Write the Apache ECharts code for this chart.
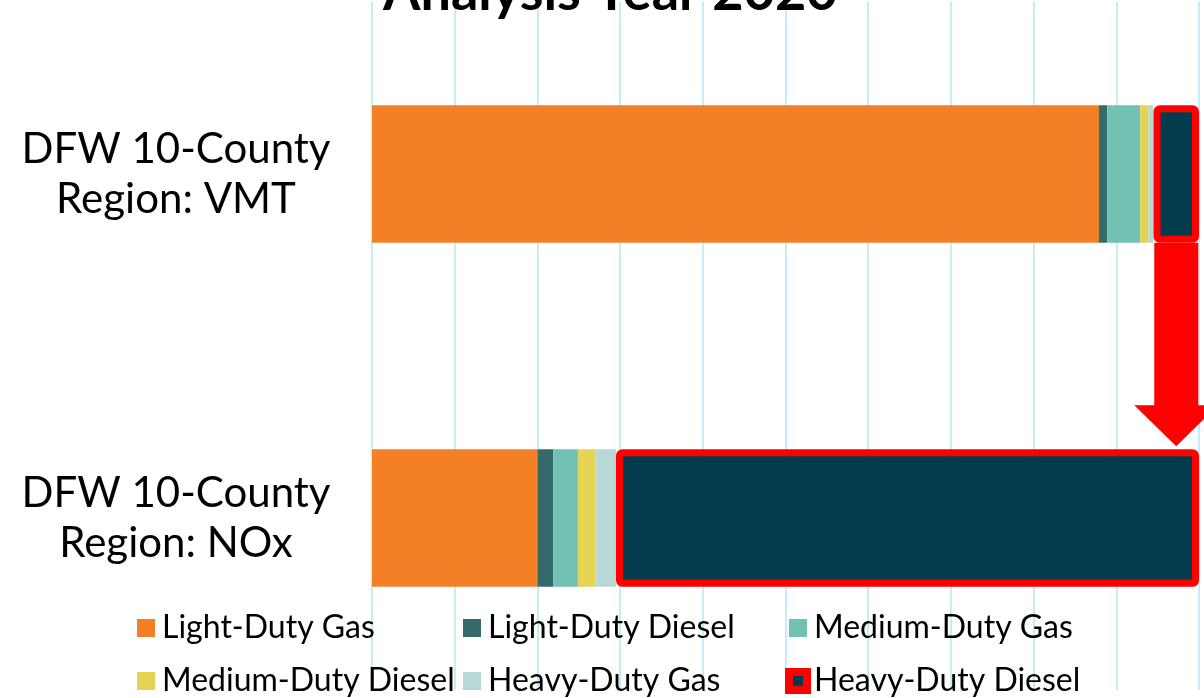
<!DOCTYPE html>
<html>
<head>
<meta charset="utf-8">
<script src="https://cdn.jsdelivr.net/npm/echarts@6/dist/echarts.min.js"></script>
<style>
  html, body { margin: 0; padding: 0; background: #fff; }
  #chart { width: 1204px; height: 698px; }
</style>
</head>
<body>
<div id="chart"></div>
<script>
// share of each vehicle class, percent
const categories = ['DFW 10-County\nRegion: VMT', 'DFW 10-County\nRegion: NOx']
const seriesNames = ['Light-Duty Gas', 'Light-Duty Diesel', 'Medium-Duty Gas',
  'Medium-Duty Diesel', 'Heavy-Duty Gas', 'Heavy-Duty Diesel']
const ldGas = [87.9, 20.0]
const ldDiesel = [1.0, 1.9]
const mdGas = [4.0, 3.0]
const mdDiesel = [1.0, 2.1]
const hdGas = [0.6, 2.5]
const hdDiesel = [5.5, 70.5]
const xTicks = [0, 10, 20, 30, 40, 50, 60, 70, 80, 90, 100]

const values = [ldGas, ldDiesel, mdGas, mdDiesel, hdGas, hdDiesel]
const colors = ['#f37f26', '#346a6a', '#72c2b4', '#e5d453', '#b8d8d8', '#033d4d']
const RED = '#ff0000'
const FONT = 'Lato'

const chart = echarts.init(document.getElementById('chart'))

const series = seriesNames.map((name, i) => ({
  name,
  type: 'bar',
  stack: 'total',
  barCategoryGap: '60%',
  data: values[i],
  itemStyle: i === 5
    ? { color: colors[i], borderColor: RED, borderWidth: 7, borderRadius: 3 }
    : { color: colors[i], borderWidth: 0 },
  emphasis: { disabled: true }
}))

function legendCol(names, left) {
  return {
    orient: 'vertical',
    left,
    top: 611,
    height: 120,
    padding: 0,
    itemWidth: 18,
    itemHeight: 18,
    itemGap: 19,
    icon: 'rect',
    selectedMode: false,
    textStyle: { fontFamily: FONT, fontSize: 32, lineHeight: 34, color: '#000', padding: [0, 0, 0, 2] },
    data: names.map(n => n === 'Heavy-Duty Diesel'
      ? { name: n, itemStyle: { color: colors[5], borderColor: RED, borderWidth: 8 } }
      : { name: n, itemStyle: { borderWidth: 0 } })
  }
}

chart.setOption({
  animation: false,
  backgroundColor: '#fff',
  title: {
    text: 'Analysis Year 2020',
    left: 383,
    top: -34,
    padding: 0,
    textStyle: { fontFamily: FONT, fontWeight: 'bold', fontSize: 54, color: '#000' }
  },
  legend: [
    legendCol([seriesNames[0], seriesNames[3]], 137),
    legendCol([seriesNames[1], seriesNames[4]], 463),
    legendCol([seriesNames[2], seriesNames[5]], 785)
  ],
  grid: { left: 372, right: 5, top: 2, bottom: 8, containLabel: false },
  xAxis: {
    type: 'value',
    min: xTicks[0],
    max: xTicks[xTicks.length - 1],
    interval: xTicks[1] - xTicks[0],
    axisLabel: { show: false },
    axisLine: { show: false },
    axisTick: { show: false },
    splitLine: { show: true, lineStyle: { color: '#c6ecfa', width: 2 } }
  },
  yAxis: {
    type: 'category',
    inverse: true,
    data: categories,
    axisLine: { show: false },
    axisTick: { show: false },
    axisLabel: {
      fontFamily: FONT, fontSize: 42, lineHeight: 50, color: '#000',
      align: 'center', margin: 196
    }
  },
  series
})

// red arrow from the VMT heavy-duty diesel segment down to the NOx one
function drawArrow() {
  const before = values.slice(0, 5).reduce((s, arr) => s + arr[0], 0)
  const mid = before + hdDiesel[0] / 2
  const top = chart.convertToPixel({ gridIndex: 0 }, [mid, categories[0]])
  const bot = chart.convertToPixel({ gridIndex: 0 }, [mid, categories[1]])
  const band = bot[1] - top[1]
  const half = band * 0.4 / 2
  const cx = top[0]
  const y0 = top[1] + half
  const tip = bot[1] - half - 3
  const headLen = 41, shaftW = 22, headW = 42
  chart.setOption({
    graphic: [{
      type: 'polygon',
      z: 100,
      shape: {
        points: [
          [cx - shaftW, y0], [cx + shaftW, y0], [cx + shaftW, tip - headLen],
          [cx + headW, tip - headLen], [cx, tip], [cx - headW, tip - headLen],
          [cx - shaftW, tip - headLen]
        ]
      },
      style: { fill: RED }
    }]
  })
}
drawArrow()
</script>
</body>
</html>
